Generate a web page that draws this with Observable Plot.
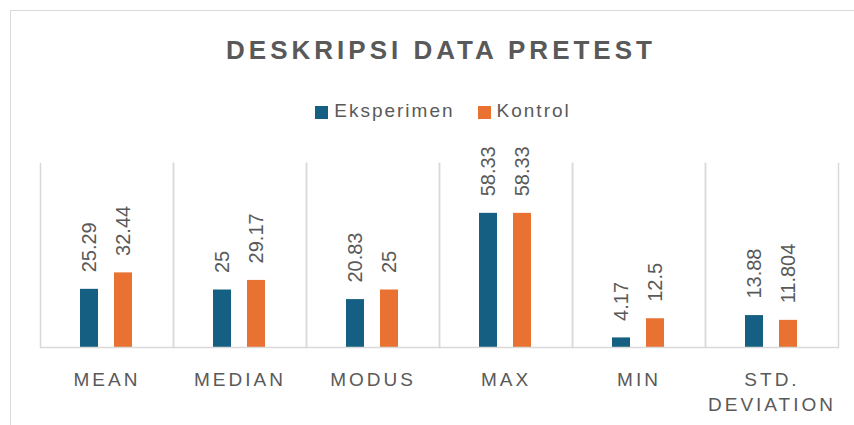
<!DOCTYPE html>
<html>
<head>
<meta charset="utf-8">
<script src="https://cdn.jsdelivr.net/npm/d3@7"></script>
<script src="https://cdn.jsdelivr.net/npm/@observablehq/plot@0.6"></script>
<style>
  html, body { margin: 0; padding: 0; background: #fff; }
  body { width: 854px; height: 425px; overflow: hidden; font-family: "Liberation Sans", Arial, sans-serif; }
  #wrap { position: relative; width: 854px; height: 425px; }
  #border { position: absolute; left: 10px; top: 10px; width: 900px; height: 500px;
            border-left: 1.5px solid #d9d9d9; border-top: 1.5px solid #d9d9d9; }
  #title { position: absolute; left: 10px; width: 858px; top: 37px; text-align: center;
           font-size: 26px; line-height: 26px; font-weight: bold; letter-spacing: 4px;
           padding-left: 4px; box-sizing: border-box; color: #595959; }
  #legend { position: absolute; left: 10px; width: 858px; top: 101px; padding-left: 8px; box-sizing: border-box;
            display: flex; justify-content: center; align-items: center;
            font-size: 19px; line-height: 19px; letter-spacing: 2px; color: #595959; }
  #legend .item { display: flex; align-items: center; }
  #legend .item + .item { margin-left: 23px; }
  #legend .sw { width: 13px; height: 13px; margin-right: 6px; position: relative; top: 2px; }
  #chart { position: absolute; left: 0; top: 140px; }
  #chart g[aria-label="fx-axis tick label"] text { letter-spacing: 3px; }
</style>
</head>
<body>
<div id="wrap">
  <div id="border"></div>
  <div id="title"></div>
  <div id="legend"></div>
  <div id="chart"></div>
</div>
<script>
const titleText = "DESKRIPSI DATA PRETEST";
const categories = ["MEAN", "MEDIAN", "MODUS", "MAX", "MIN", "STD. DEVIATION"];
const seriesNames = ["Eksperimen", "Kontrol"];
const seriesColors = ["#156082", "#E97132"];
const eksperimen = [25.29, 25, 20.83, 58.33, 4.17, 13.88];
const kontrol = [32.44, 29.17, 25, 58.33, 12.5, 11.804];

const data = [];
categories.forEach((c, i) => {
  data.push({cat: c, series: seriesNames[0], value: eksperimen[i]});
  data.push({cat: c, series: seriesNames[1], value: kontrol[i]});
});

document.getElementById("title").textContent = titleText;
const legend = document.getElementById("legend");
seriesNames.forEach((s, i) => {
  const item = document.createElement("div");
  item.className = "item";
  const sw = document.createElement("span");
  sw.className = "sw";
  sw.style.background = seriesColors[i];
  const lab = document.createElement("span");
  lab.textContent = s;
  item.appendChild(sw);
  item.appendChild(lab);
  legend.appendChild(item);
});

const grid = "#d9d9d9";
const plot = Plot.plot({
  width: 854,
  height: 285,
  marginTop: 23,
  marginBottom: 78,
  marginLeft: 40,
  marginRight: 16,
  style: {fontFamily: "'Liberation Sans', Arial, sans-serif", background: "transparent"},
  fx: {domain: categories, padding: 0},
  x: {domain: seriesNames, axis: null, paddingInner: 0.46, paddingOuter: 1.17},
  y: {domain: [0, 80], axis: null},
  color: {domain: seriesNames, range: seriesColors},
  marks: [
    Plot.frame({anchor: "left", stroke: grid, strokeWidth: 1.5}),
    Plot.frame({anchor: "right", stroke: grid, strokeWidth: 1.5}),
    Plot.barY(data, {fx: "cat", x: "series", y: "value", fill: "series"}),
    Plot.ruleY([0], {stroke: grid, strokeWidth: 1.5}),
    Plot.text(data, {fx: "cat", x: "series", y: "value", text: d => String(d.value),
      rotate: -90, textAnchor: "start", dy: -17, fontSize: 20, fill: "#595959"}),
    Plot.axisFx({anchor: "bottom", tickSize: 0, tickPadding: 21, fontSize: 19, lineHeight: 1.32,
      label: null, fill: "#595959", tickFormat: d => d.replace(" ", "\n")})
  ]
});
document.getElementById("chart").appendChild(plot);
</script>
</body>
</html>
